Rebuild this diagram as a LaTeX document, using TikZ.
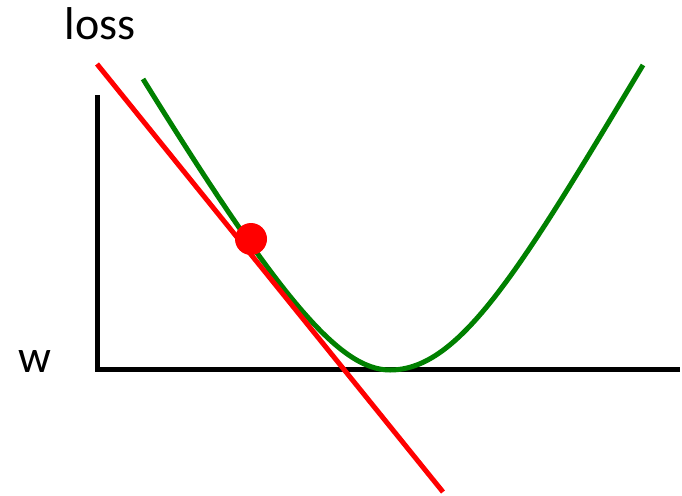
\documentclass[tikz,border=0pt]{standalone}
\usepackage{fontspec}
\setmainfont{Carlito}
\definecolor{curvegreen}{RGB}{0,128,0}
\definecolor{tanred}{RGB}{255,0,0}
\begin{document}
\begin{tikzpicture}[x=1pt,y=-1pt,
  axisline/.style={line width=5pt,black,line join=miter},
  losscurve/.style={line width=5pt,curvegreen},
  tangent/.style={line width=5pt,tanred},
  lbl/.style={font=\fontsize{46}{52}\selectfont,inner sep=0pt,anchor=base}]
\useasboundingbox (0,0) rectangle (682,495);
% axes
\coordinate (ytop) at (97,95);
\coordinate (origin) at (97,369);
\coordinate (xend) at (680,369);
\draw[axisline] (ytop) -- (origin) -- (xend);
% loss curve
\coordinate (gstart) at (143,79);
\coordinate (gmin) at (390,370);
\coordinate (gend) at (643,65);
\draw[losscurve] (gstart) .. controls (280,300) and (340,370) .. (gmin)
  .. controls (460,370) and (520,270) .. (gend);
% tangent line
\coordinate (rstart) at (97,64);
\coordinate (rend) at (443,492);
\draw[tangent] (rstart) -- (rend);
% point
\node[circle,fill=tanred,minimum size=32pt,inner sep=0pt] (dot) at (251,239) {};
% labels
\node[lbl] (loss) at (100,40) {loss};
\node[lbl] (w) at (35,372) {w};
\end{tikzpicture}
\end{document}
